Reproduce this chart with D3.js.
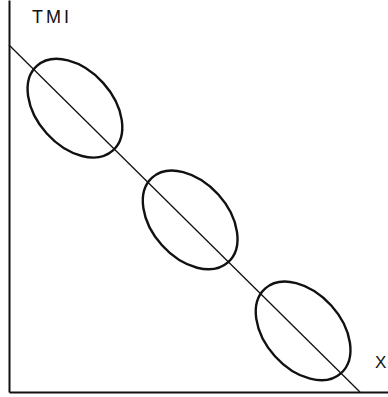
<!DOCTYPE html>
<html>
<head>
<meta charset="utf-8">
<script src="https://cdn.jsdelivr.net/npm/d3@7"></script>
<style>
  body { margin: 0; background: #fff; }
  text { font-family: "Liberation Sans", Arial, sans-serif; fill: #111; }
</style>
</head>
<body>
<div id="chart"></div>
<script>
// cluster centres (arbitrary units, 0-100 on both axes)
var clusterX = [17.4, 47.8, 77.6];
var clusterY = [72.4, 43.9, 15.6];
// trend line end points
var trendX = [0, 92.6];
var trendY = [88.5, 0];
// axis titles
var yTitle = "TMI";
var xTitle = "X";

var width = 388, height = 397;
var margin = {top: 0, right: 0, bottom: 5, left: 9};

var svg = d3.select("#chart")
  .append("svg")
    .attr("width", width)
    .attr("height", height);

var x = d3.scaleLinear()
  .domain([0, 100])
  .range([margin.left, width - margin.right]);

var y = d3.scaleLinear()
  .domain([0, 100])
  .range([height - margin.bottom, margin.top]);

// axes with no ticks, just the lines
svg.append("g")
  .attr("transform", "translate(0," + y(0) + ")")
  .call(d3.axisBottom(x).ticks(0).tickSizeOuter(0))
  .select(".domain")
    .attr("stroke", "#111")
    .attr("stroke-width", 2);

svg.append("g")
  .attr("transform", "translate(" + x(0) + ",0)")
  .call(d3.axisLeft(y).ticks(0).tickSizeOuter(0))
  .select(".domain")
    .attr("stroke", "#111")
    .attr("stroke-width", 2);

// trend line
svg.append("line")
  .attr("x1", x(trendX[0]))
  .attr("y1", y(trendY[0]))
  .attr("x2", x(trendX[1]))
  .attr("y2", y(trendY[1]))
  .attr("stroke", "#111")
  .attr("stroke-width", 1.3);

// ellipses round each cluster
var rx = x(15) - x(0);
var ry = x(10) - x(0);
svg.selectAll("ellipse.cluster")
  .data(clusterX)
  .enter()
  .append("ellipse")
    .attr("class", "cluster")
    .attr("cx", 0)
    .attr("cy", 0)
    .attr("rx", rx)
    .attr("ry", ry)
    .attr("transform", function(d, i) {
      return "translate(" + x(d) + "," + y(clusterY[i]) + ") rotate(48)";
    })
    .attr("fill", "none")
    .attr("stroke", "#111")
    .attr("stroke-width", 2.4);

// labels
svg.append("text")
  .attr("x", 32)
  .attr("y", 23)
  .attr("font-size", 18)
  .attr("letter-spacing", 3)
  .text(yTitle);

svg.append("text")
  .attr("x", 375)
  .attr("y", 368)
  .attr("font-size", 17)
  .text(xTitle);
</script>
</body>
</html>
